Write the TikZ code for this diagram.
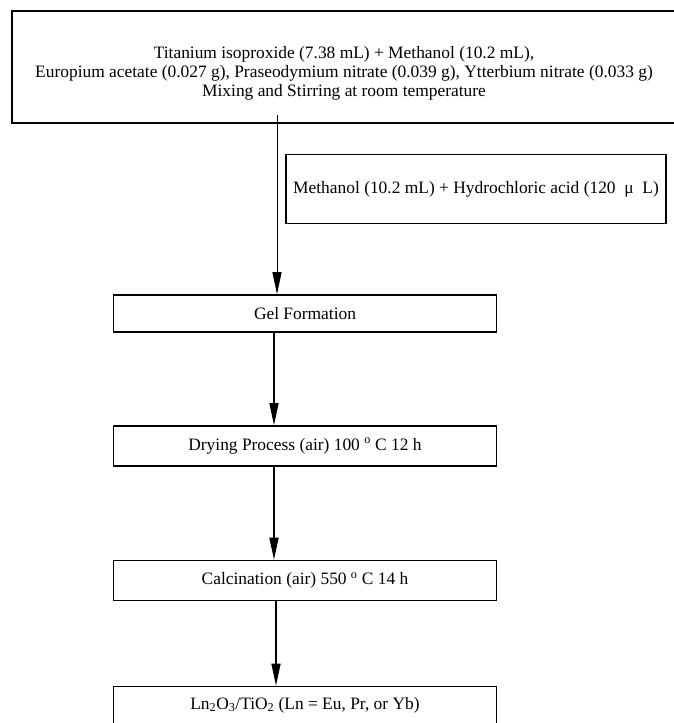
\documentclass[tikz,border=0pt]{standalone}
\usepackage{fontspec}
\setmainfont{Liberation Serif}
\usetikzlibrary{arrows.meta}

\begin{document}
\begin{tikzpicture}[x=1pt,y=-1pt,
  stepbox/.style={draw,line width=1.6pt,inner sep=0pt,align=center,font=\fontsize{17.4}{18.7}\selectfont},
  flow/.style={line width=1.4pt,-{Triangle[length=22pt,width=9pt]}}]
\useasboundingbox (0,0) rectangle (673,723);

\node[stepbox,minimum width=664,minimum height=112] (mix) at (344,67) {\\[6pt]Titanium isoproxide (7.38 mL) + Methanol (10.2 mL),\\Europium acetate (0.027 g), Praseodymium nitrate (0.039 g), Ytterbium nitrate (0.033 g)\\Mixing and Stirring at room temperature};
\node[stepbox,line width=1.2pt,minimum width=380,minimum height=69] (hcl) at (476,189) {Methanol (10.2 mL) + Hydrochloric acid (120 \ μ \ L)};
\node[stepbox,minimum width=383,minimum height=37] (gel) at (305,313.5) {Gel Formation};
\node[stepbox,minimum width=383,minimum height=40] (dry) at (305,446) {Drying Process (air) 100 \textsuperscript{o} C 12 h};
\node[stepbox,minimum width=383,minimum height=40] (calc) at (305,580.5) {Calcination (air) 550 \textsuperscript{o} C 14 h};
\node[stepbox,minimum width=383,minimum height=37] (prod) at (305,705) {Ln\textsubscript{2}O\textsubscript{3}/TiO\textsubscript{2} (Ln = Eu, Pr, or Yb)};

\coordinate (s0) at (277,115);
\coordinate (s1) at (274,0);
\coordinate (s2) at (276,0);

\draw[flow,line width=1pt] (s0) -- (gel.north -| s0);
\draw[flow] (gel.south -| s1) -- (dry.north -| s1);
\draw[flow] (dry.south -| s1) -- (calc.north -| s1);
\draw[flow] (calc.south -| s2) -- (prod.north -| s2);
\end{tikzpicture}
\end{document}
